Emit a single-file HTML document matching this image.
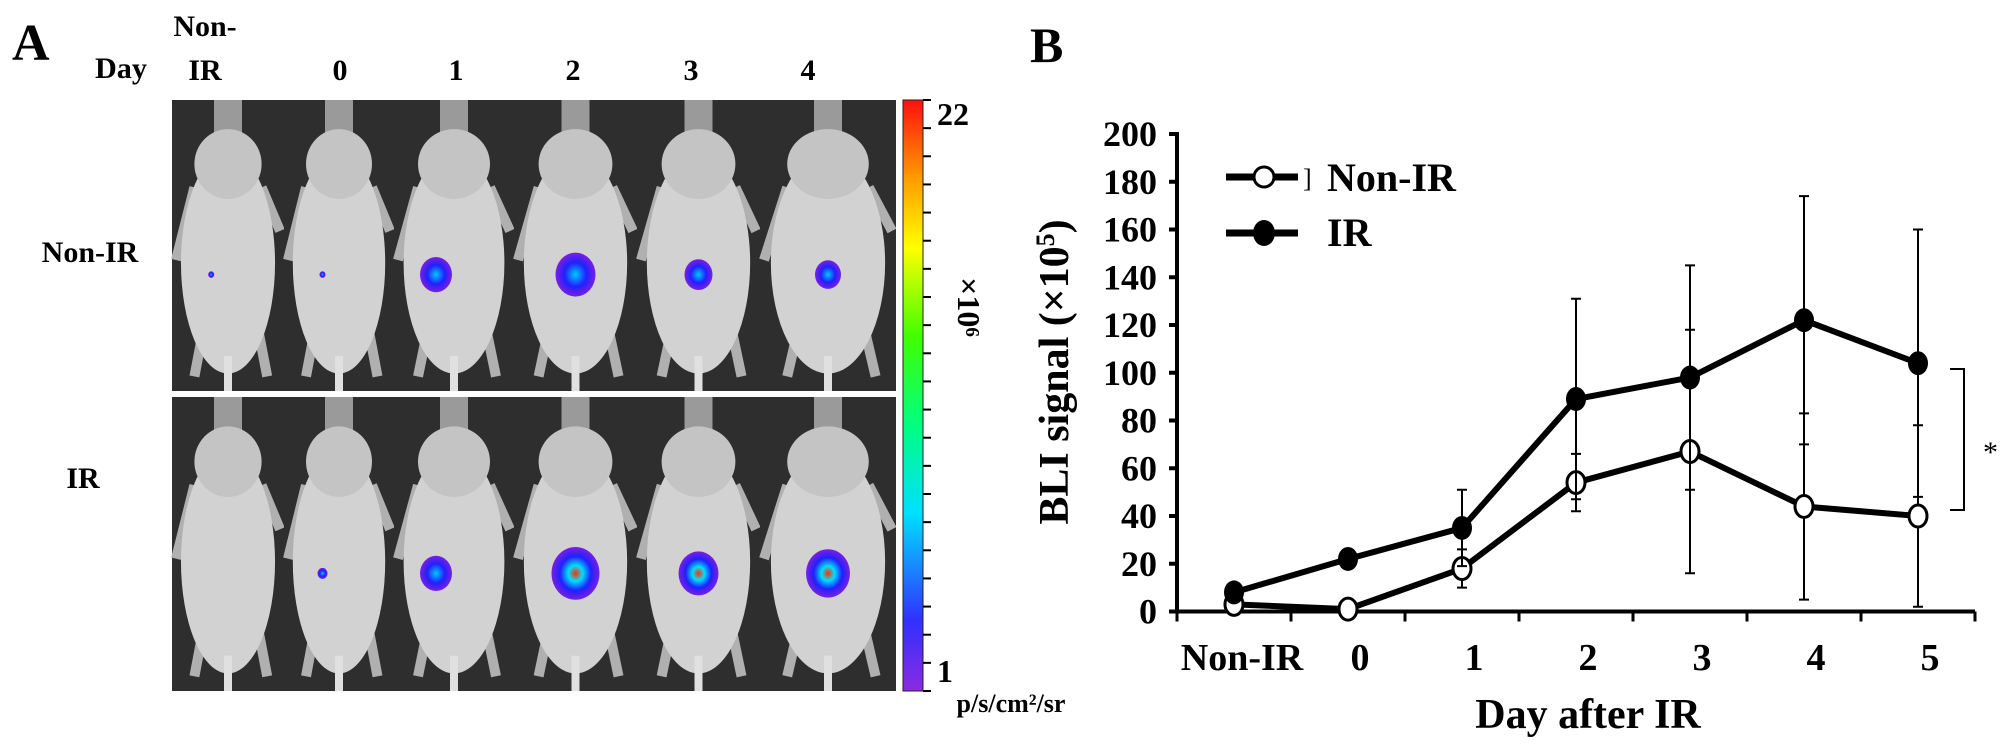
<!DOCTYPE html>
<html><head><meta charset="utf-8"><style>
html,body{margin:0;padding:0;background:#fff;}
svg{display:block;font-family:"Liberation Serif",serif;font-weight:bold;}
</style></head><body>
<svg id="fig" width="2008" height="752" viewBox="0 0 2008 752" xmlns="http://www.w3.org/2000/svg">
<defs>
<linearGradient id="cbar" x1="0" y1="1" x2="0" y2="0">
<stop offset="0" stop-color="#8a2be2"/><stop offset="0.12" stop-color="#3030ff"/><stop offset="0.3" stop-color="#00e0ff"/><stop offset="0.45" stop-color="#00ff80"/><stop offset="0.6" stop-color="#40ff00"/><stop offset="0.75" stop-color="#ffff00"/><stop offset="0.87" stop-color="#ff9900"/><stop offset="1" stop-color="#ff1010"/>
</linearGradient>
<radialGradient id="blob"><stop offset="0" stop-color="#00c8ff"/><stop offset="0.55" stop-color="#2020ff"/><stop offset="1" stop-color="#7a20e0"/></radialGradient>
<radialGradient id="blobhot"><stop offset="0" stop-color="#ff3000"/><stop offset="0.3" stop-color="#00e0ff"/><stop offset="0.65" stop-color="#2020ff"/><stop offset="1" stop-color="#7a20e0"/></radialGradient>
</defs>
<g id="panelA">
<text x="12" y="60" font-size="52">A</text>
<text x="95" y="78" font-size="30" textLength="52" lengthAdjust="spacingAndGlyphs">Day</text>
<text x="205" y="36" font-size="30" text-anchor="middle">Non-</text>
<text x="205" y="80" font-size="30" text-anchor="middle">IR</text>
<g id="imgs"></g>
<text x="90" y="262" font-size="30" text-anchor="middle">Non-IR</text>
<text x="83" y="488" font-size="30" text-anchor="middle">IR</text>
<rect x="903" y="100" width="20" height="591" fill="url(#cbar)" stroke="#222" stroke-width="1"/>
<g id="cbticks"></g>
<text x="937" y="125" font-size="32">22</text>
<text x="937" y="682" font-size="32">1</text>
<text x="1011" y="712" font-size="26" text-anchor="middle">p/s/cm²/sr</text>
<text transform="translate(958,307) rotate(90)" font-size="32" text-anchor="middle">×10⁶</text>
</g>
<g id="panelB">
<text x="1030" y="62" font-size="50">B</text>
<text transform="translate(1068,372) rotate(-90)" font-size="42" text-anchor="middle">BLI signal (×10<tspan dy="-14" font-size="26">5</tspan><tspan dy="14">)</tspan></text>
<text x="1588" y="728" font-size="42" text-anchor="middle">Day after IR</text>
<g id="chart"></g>
<g>
<line x1="1226" y1="177" x2="1298" y2="177" stroke="#000" stroke-width="7"/>
<circle cx="1264" cy="177" r="10" fill="#fff" stroke="#000" stroke-width="3"/>
<text x="1303" y="187" font-size="26" font-weight="normal">]</text>
<text x="1327" y="191" font-size="40">Non-IR</text>
<line x1="1226" y1="233" x2="1298" y2="233" stroke="#000" stroke-width="7"/>
<ellipse cx="1264" cy="233" rx="11" ry="13" fill="#000"/>
<text x="1327" y="246" font-size="40">IR</text>
</g>
<path d="M1950 369 H1964 V510 H1950" fill="none" stroke="#000" stroke-width="2"/>
<text x="1983" y="462" font-size="30" font-weight="normal">*</text>
</g>
</svg>
<script>
const categories = ["Non-IR","0","1","2","3","4","5"];
const nonIrValues = [3, 1, 18, 54, 67, 44, 40];
const nonIrErrors = [1, 1, 8, 12, 51, 39, 38];
const irValues = [8, 22, 35, 89, 98, 122, 104];
const irErrors = [2, 2, 16, 42, 47, 52, 56];
const yTicks = [0,20,40,60,80,100,120,140,160,180,200];
const dayLabels = ["0","1","2","3","4"];

const NS = "http://www.w3.org/2000/svg";
function mk(tag, attrs, parent){const e=document.createElementNS(NS,tag);for(const k in attrs)e.setAttribute(k,attrs[k]);parent.appendChild(e);return e;}
const X0=1177, X1=1975, Y0=611.5, Y1=134, YMAX=200;
const band=(X1-X0)/categories.length;
const xs=i=>X0+band*(i+0.5);
const ys=v=>Y0-(v/YMAX)*(Y0-Y1);
const chart=document.getElementById('chart');

let ax=mk('line',{x1:X0,y1:ys(YMAX)-2,x2:X0,y2:Y0+2,stroke:'#000','stroke-width':4},chart);


let bx=mk('line',{x1:X0-2,y1:Y0,x2:X1,y2:Y0,stroke:'#000','stroke-width':4},chart);


yTicks.forEach(v=>{
  const t=mk('line',{x1:X0-8,y1:ys(v),x2:X0,y2:ys(v),stroke:'#000','stroke-width':4},chart);
  
  
  const l=mk('text',{x:X0-20,y:ys(v)+12,'font-size':36,'text-anchor':'end'},chart);
  l.textContent=v;
  
  
});
for(let i=0;i<=categories.length;i++){
  const t=mk('line',{x1:X0+band*i,y1:Y0,x2:X0+band*i,y2:Y0+10,stroke:'#000','stroke-width':3},chart);
  
  
}
categories.forEach((c,i)=>{
  const l=mk('text',{x:xs(i)+(i===0?8:12),y:670,'font-size':38,'text-anchor':'middle'},chart);
  l.textContent=c;
  
  
});
function series(vals,errs,filled,name){
  const g=mk('g',{},chart);
  
  
  vals.forEach((v,i)=>{
    const e=errs[i];
    const el=mk('path',{d:`M${xs(i)} ${ys(v+e)}V${ys(Math.max(0,v-e))}M${xs(i)-5} ${ys(v+e)}h10M${xs(i)-5} ${ys(Math.max(0,v-e))}h10`,stroke:'#000','stroke-width':2,fill:'none'},g);
    
    
  });
  const pts=vals.map((v,i)=>xs(i)+','+ys(v)).join(' ');
  const pl=mk('polyline',{points:pts,fill:'none',stroke:'#000','stroke-width':6,'stroke-linejoin':'round'},g);
  
  
  vals.forEach((v,i)=>{
    const c=filled?mk('ellipse',{cx:xs(i),cy:ys(v),rx:10,ry:12,fill:'#000'},g):mk('ellipse',{cx:xs(i),cy:ys(v),rx:9,ry:11,fill:'#fff',stroke:'#000','stroke-width':3},g);
    
    
  });
}
series(nonIrValues,nonIrErrors,false,'non-ir-series');
series(irValues,irErrors,true,'ir-series');

const cols=[172,284,394,514,637,760,896];
const rows=[[100,391],[397,691]];
const imgs=document.getElementById('imgs');
const blobsTop=[3,3,16,20,14,13];
const blobsBot=[0,5,16,24,20,22];
for(let r=0;r<2;r++){for(let c=0;c<6;c++){
  const x=cols[c],w=cols[c+1]-x,y=rows[r][0],h=rows[r][1]-y;
  const g=mk('g',{},imgs);
  
  
  mk('rect',{x:x,y:y,width:w,height:h,fill:'#2e2e2e'},g);
  mk('rect',{x:x+w/2-14,y:y,width:28,height:40,fill:'#9a9a9a'},g);
  mk('path',{d:`M${x+4} ${y+h*0.55}L${x+w*0.2} ${y+h*0.3}M${x+w-4} ${y+h*0.45}L${x+w*0.8} ${y+h*0.3}M${x+w*0.2} ${y+h*0.95}L${x+w*0.3} ${y+h*0.75}M${x+w*0.85} ${y+h*0.95}L${x+w*0.75} ${y+h*0.75}`,stroke:'#b0b0b0','stroke-width':10,fill:'none'},g);
  mk('ellipse',{cx:x+w/2,cy:y+h*0.56,rx:w*0.42,ry:h*0.38,fill:'#d2d2d2'},g);
  mk('ellipse',{cx:x+w/2,cy:y+h*0.22,rx:w*0.3,ry:h*0.12,fill:'#c4c4c4'},g);
  mk('rect',{x:x+w/2-4,y:y+h*0.88,width:8,height:h*0.12,fill:'#e0e0e0'},g);
  const br=(r===0?blobsTop:blobsBot)[c];
  if(br>0){const b=mk('ellipse',{cx:x+w*0.35+(c>=3?w*0.15:0),cy:y+h*0.6,rx:br,ry:br*1.1,fill:(r===1&&c>=3)?'url(#blobhot)':'url(#blob)'},g);
    
    }
}}
[340,456,573,691,808].forEach((x,i)=>{
  const t=mk('text',{x:x,y:80,'font-size':30,'text-anchor':'middle'},document.getElementById('panelA'));
  t.textContent=dayLabels[i];
  
  
});
const cb=document.getElementById('cbticks');
for(let i=0;i<=21;i++){
  const y=100+i*(591/21);
  const t=mk('line',{x1:923,y1:y,x2:931,y2:y,stroke:'#000','stroke-width':2},cb);
  
  
}
</script>
</body></html>
